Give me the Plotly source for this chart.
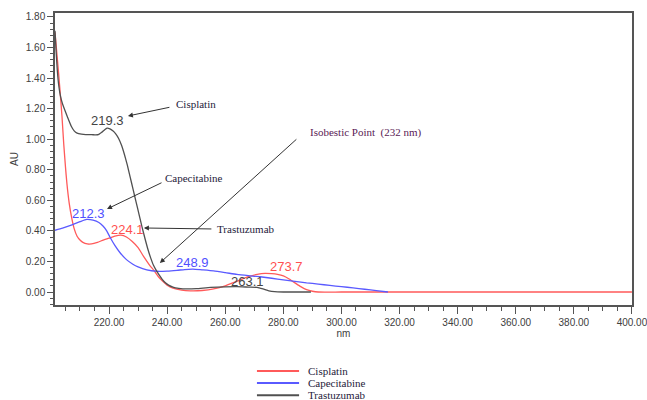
import plotly.graph_objects as go

# ---------------- data ----------------
series_names = ["Cisplatin", "Capecitabine", "Trastuzumab"]
series_colors = ["#ff5a5a", "#5a5aff", "#505050"]

cis_nm = [201.4, 202.0, 202.6, 203.2, 203.8, 204.4, 205.0, 205.5, 206.3, 207.2, 208.0, 209.0,
          210.0, 211.0, 212.5, 214.0, 216.0, 218.0, 220.0, 222.0, 224.1, 226.0, 228.0, 230.0,
          232.0, 234.0, 235.5, 237.0, 238.5, 240.0, 242.0, 245.0, 248.0, 252.0, 256.0, 260.0,
          264.0, 268.0, 271.0, 273.7, 276.0, 278.0, 280.0, 282.0, 284.0, 286.0, 288.0, 290.0,
          292.0, 300.0, 320.0, 350.0, 400.0]
cis_au = [1.70, 1.57, 1.44, 1.30, 1.15, 0.97, 0.82, 0.71, 0.58, 0.48, 0.415, 0.365,
          0.34, 0.325, 0.315, 0.315, 0.325, 0.34, 0.352, 0.365, 0.372, 0.36, 0.33, 0.29,
          0.23, 0.175, 0.14, 0.10, 0.07, 0.045, 0.025, 0.012, 0.008, 0.01, 0.02, 0.04,
          0.07, 0.10, 0.115, 0.122, 0.12, 0.115, 0.105, 0.085, 0.06, 0.035, 0.015, 0.005,
          0.0, 0.0, 0.0, 0.0, 0.0]

cap_nm = [201.4, 204.0, 207.0, 210.0, 212.3, 214.5, 216.5, 218.0, 219.2, 220.3, 222.0, 223.8,
          226.0, 228.2, 230.0, 233.0, 236.4, 240.0, 243.4, 246.0, 248.9, 252.0, 256.0, 260.0,
          264.0, 268.0, 272.0, 276.0, 280.0, 284.0, 288.0, 292.0, 296.0, 300.0, 304.0, 308.0,
          312.0, 316.0]
cap_au = [0.404, 0.418, 0.438, 0.46, 0.475, 0.47, 0.455, 0.43, 0.40, 0.36, 0.305, 0.257,
          0.212, 0.182, 0.164, 0.145, 0.136, 0.137, 0.142, 0.147, 0.15, 0.145, 0.138, 0.127,
          0.115, 0.107, 0.10, 0.09, 0.08, 0.07, 0.06, 0.052, 0.043, 0.035, 0.027, 0.018,
          0.009, 0.0]

tra_nm = [201.4, 201.8, 202.2, 202.7, 203.3, 204.0, 204.8, 205.8, 207.0, 208.0, 209.0, 210.5,
          212.0, 214.0, 215.5, 216.5, 217.5, 218.5, 219.3, 220.3, 221.3, 222.3, 223.3, 224.3,
          225.3, 226.3, 227.3, 228.3, 229.3, 230.3, 231.3, 232.3, 233.3, 234.3, 235.3, 236.3,
          237.3, 238.3, 239.3, 240.5, 242.0, 244.0, 247.0, 250.0, 255.0, 260.0, 264.0, 268.0,
          271.0, 273.0, 275.0, 277.0, 280.0, 284.0, 289.5]
tra_au = [1.71, 1.57, 1.45, 1.35, 1.28, 1.23, 1.19, 1.14, 1.085, 1.055, 1.04, 1.033,
          1.03, 1.03, 1.028, 1.032, 1.045, 1.062, 1.072, 1.068, 1.055, 1.035, 1.005, 0.96,
          0.90, 0.83, 0.75, 0.67, 0.59, 0.51, 0.43, 0.355, 0.285, 0.225, 0.175, 0.14,
          0.11, 0.083, 0.062, 0.045, 0.032, 0.024, 0.02, 0.022, 0.03, 0.034, 0.035, 0.032,
          0.03, 0.02, 0.008, 0.002, 0.0, 0.0, 0.0]

x_ticks = [220, 240, 260, 280, 300, 320, 340, 360, 380, 400]
y_ticks = [0.0, 0.2, 0.4, 0.6, 0.8, 1.0, 1.2, 1.4, 1.6, 1.8]

# peak labels
peak_text = ["219.3", "212.3", "224.1", "248.9", "263.1", "273.7"]
peak_x = [219.3, 212.8, 226.4, 248.6, 267.8, 281.2]
peak_y = [1.12, 0.517, 0.41, 0.196, 0.072, 0.17]
peak_color = ["#444444", "#5050ff", "#ff5050", "#5050ff", "#444444", "#ff5050"]

# callouts
call_text = ["Cisplatin", "Capecitabine", "Trastuzumab", "Isobestic Point&nbsp;&nbsp;(232 nm)"]
call_tx = [249.8, 249.2, 267.0, 308.4]
call_ty = [1.23, 0.746, 0.412, 1.047]
call_hx = [226.5, 219.3, 232.0, 237.5]
call_hy = [1.152, 0.543, 0.419, 0.19]
call_ax = [43, 56, 69, 138]
call_ay = [-9, -27, 1, -125]
call_color = ["#1e1a3a", "#1e1a3a", "#1e1a3a", "#5a1a55"]

# ---------------- figure ----------------
fig = go.Figure()
for nm, au, name, col in [(cis_nm, cis_au, series_names[0], series_colors[0]),
                          (cap_nm, cap_au, series_names[1], series_colors[1]),
                          (tra_nm, tra_au, series_names[2], series_colors[2])]:
    fig.add_trace(go.Scatter(x=nm, y=au, mode="lines", name=name, showlegend=False,
                             line=dict(color=col, width=1.3, shape="spline", smoothing=0.5)))

serif = "Liberation Serif, Times New Roman, serif"
sans = "Liberation Sans, Arial, sans-serif"

for t, x, y, c in zip(peak_text, peak_x, peak_y, peak_color):
    fig.add_annotation(x=x, y=y, text=t, showarrow=False, font=dict(family=sans, size=13, color=c))

for t, tx, ty, hx, hy, ax, ay, c in zip(call_text, call_tx, call_ty, call_hx, call_hy,
                                         call_ax, call_ay, call_color):
    fig.add_annotation(x=tx, y=ty, text=t, showarrow=False,
                       font=dict(family=serif, size=11, color=c))
    fig.add_annotation(x=hx, y=hy, text="", showarrow=True, ax=ax, ay=ay,
                       arrowhead=2, arrowsize=1, arrowwidth=1, arrowcolor="#333333")

# custom legend below the plot
leg_y = [-0.226, -0.267, -0.309]
for name, col, ly in zip(series_names, series_colors, leg_y):
    fig.add_shape(type="line", xref="paper", yref="paper", x0=0.350, x1=0.423, y0=ly, y1=ly,
                  line=dict(color=col, width=2))
    fig.add_annotation(xref="paper", yref="paper", x=0.435, y=ly, text=name, showarrow=False,
                       xanchor="left", yanchor="middle",
                       font=dict(family=serif, size=11, color="#1e1a3a"))

axis_common = dict(showgrid=False, zeroline=False, showline=True, linecolor="#555555",
                   linewidth=1.5, mirror=True, ticks="outside", tickcolor="#555555",
                   automargin=False,
                   tickfont=dict(family=sans, size=10, color="#404040"))

fig.update_xaxes(range=[201.4, 400.02], tickvals=x_ticks, tickformat=".2f", ticklen=7,
                 ticklabeloverflow="allow",
                 minor=dict(dtick=5, tick0=200, ticklen=4, ticks="outside", tickcolor="#555555"),
                 title=dict(text="nm", font=dict(family=sans, size=10, color="#404040"), standoff=1),
                 **axis_common)
fig.update_yaxes(range=[-0.085, 1.826], tickvals=y_ticks, tickformat=".2f", ticklen=6,
                 minor=dict(dtick=0.04, tick0=0, ticklen=3, ticks="outside", tickcolor="#555555"),
                 title=dict(text="AU", font=dict(family=sans, size=10, color="#404040"), standoff=5),
                 **axis_common)

fig.update_layout(width=647, height=400, margin=dict(l=55, r=15, t=13, b=95, autoexpand=False),
                  plot_bgcolor="white", paper_bgcolor="white", showlegend=False)

# remove the default page margin so the 647x400 figure fills the window exactly
fig.write_html("out.html",
               config={"displayModeBar": False},
               post_script="document.body.style.margin='0';document.body.style.overflow='hidden';")
